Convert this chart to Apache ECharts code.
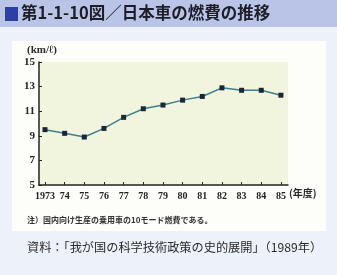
<!DOCTYPE html>
<html><head><meta charset="utf-8">
<script src="https://cdn.jsdelivr.net/npm/echarts@6/dist/echarts.min.js"></script>
<style>html,body{margin:0;padding:0;background:#edf1f9;}#c{width:337px;height:275px;}</style>
</head><body><div id="c"></div>
<script>
const years = [1973,1974,1975,1976,1977,1978,1979,1980,1981,1982,1983,1984,1985];
const fuel = [9.5,9.2,8.9,9.6,10.5,11.2,11.5,11.9,12.2,12.9,12.7,12.7,12.3];
const yTicks = [5,7,9,11,13,15];
const titleText = '第1-1-10図／日本車の燃費の推移';
const unitText = '(km/ℓ)';
const xUnitText = '(年度)';
const noteText = '注）国内向け生産の乗用車の10モード燃費である。';
const sourceText = '資料：「我が国の科学技術政策の史的展開」（1989年）';

const chart = echarts.init(document.getElementById('c'), null, {renderer:'canvas'});
const serif = '"Liberation Serif", "DejaVu Serif", serif';
const jp = '"Noto Sans CJK JP", sans-serif';
chart.setOption({
  backgroundColor: '#edf1f9',
  animation: false,
  graphic: [
    {type:'rect', shape:{x:0,y:0,width:337,height:27}, style:{fill:'#bac4e6'}, z:-10},
    {type:'rect', shape:{x:5,y:7,width:13,height:14}, style:{fill:'#2b3fa6'}, z:-9},
    {type:'rect', shape:{x:12,y:41,width:314,height:190}, style:{fill:'#fdfdfa'}, z:-10},
    {type:'text', left:21, top:4, style:{text:titleText, font:'bold 16.5px '+jp, fill:'#1e1e28'}},
    {type:'text', left:27, top:45, style:{text:unitText, font:'bold 11px '+serif, fill:'#2a2a2a'}},
    {type:'text', left:289, top:188, style:{text:xUnitText, font:'bold 10px '+jp, fill:'#2a2a2a'}},
    {type:'text', left:27, top:216, style:{text:noteText, font:'bold 8px '+jp, fill:'#333'}},
    {type:'text', left:27, top:241, style:{text:sourceText, font:'12.2px '+jp, fill:'#2a2a2a'}}
  ],
  grid: {left:39, top:62, width:249, height:123, show:true, backgroundColor:'#f1f5dd', borderWidth:0},
  xAxis: {
    type:'value', min:1972.695, max:1985.36,
    axisLine:{show:true, lineStyle:{color:'#222', width:1.5}},
    axisTick:{show:true, inside:true, length:3, customValues:years, lineStyle:{color:'#222'}},
    axisLabel:{customValues:years, formatter:v=> v===1973 ? '1973' : String(v).slice(2), color:'#222', fontFamily:serif, fontWeight:'bold', fontSize:10, margin:6},
    splitLine:{show:false}
  },
  yAxis: {
    type:'value', min:5, max:15, interval:2,
    axisLine:{show:true, lineStyle:{color:'#222', width:1.5}},
    axisTick:{show:true, inside:true, length:3, lineStyle:{color:'#222'}},
    axisLabel:{color:'#222', fontFamily:serif, fontWeight:'bold', fontSize:11, margin:4},
    splitLine:{show:false}
  },
  series: [{
    type:'line',
    data: years.map((y,i)=>[y, fuel[i]]),
    symbol:'rect', symbolSize:5,
    lineStyle:{color:'#3f7f90', width:1.5},
    itemStyle:{color:'#1b2638'}
  }]
});
</script></body></html>
